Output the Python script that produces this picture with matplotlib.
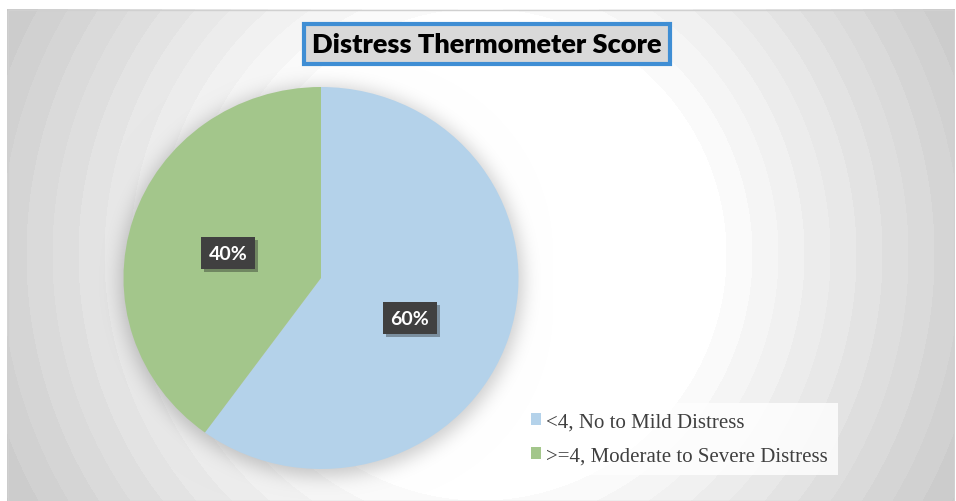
import numpy as np
import matplotlib
matplotlib.use("Agg")
from matplotlib import pyplot as plt
from matplotlib import patheffects as pe
from matplotlib.patches import Rectangle

# data
labels = ["<4, No to Mild Distress", ">=4, Moderate to Severe Distress"]
values = [60, 40]
colors = ["#B4D2EA", "#A3C68B"]
title = "Distress Thermometer Score"

W, H = 956, 502
fig = plt.figure(figsize=(W / 100, H / 100), dpi=100)
fig.patch.set_facecolor("white")

# background: banded radial gradient + soft shadow under the pie
yy, xx = np.mgrid[0:H, 0:W]
d = np.hypot(xx - 480, yy - 255)
band = np.floor(np.maximum(d - 220, 0) / 26)
gray = 255 - band * 4.6
gray = np.clip(gray, 188, 255) / 255.0

cx, cy, rx, ry = 321, 279, 197.5, 191
disc = (np.hypot((xx - cx) / rx, (yy - (cy + 3)) / ry) < 1.02).astype(float)
k = np.exp(-0.5 * (np.arange(-30, 31) / 9.0) ** 2)
k /= k.sum()
sh = np.apply_along_axis(lambda v: np.convolve(v, k, mode="same"), 1, disc)
sh = np.apply_along_axis(lambda v: np.convolve(v, k, mode="same"), 0, sh)
gray = gray * (1 - 0.2 * sh)

img = np.dstack([gray, gray, gray])
bg = fig.add_axes([7 / W, 0, (955 - 7) / W, (H - 10) / H])
bg.imshow(img[10:H, 7:955], aspect="auto", interpolation="nearest")
bg.set_axis_off()
bg.add_patch(Rectangle((0, 0), 947, 491, fill=False, ec="#D0D0D0", lw=1))

# pie (slightly wider than tall, as in the source)
ax = fig.add_axes([(cx - rx) / W, (H - cy - ry) / H, 2 * rx / W, 2 * ry / H])
wedges, texts, autotexts = ax.pie(values, colors=colors, startangle=90, counterclock=False,
                                  radius=1, autopct="%d%%", pctdistance=0.5,
                                  wedgeprops=dict(linewidth=0))
ax.set_aspect("auto")
ax.set_xlim(-1, 1)
ax.set_ylim(-1, 1)
ax.set_axis_off()

# label spots nudged like the excel layout
label_pos = [(0.45, -0.21), (-0.47, 0.13)]
for t, p in zip(autotexts, label_pos):
    t.set_position(p)
    t.set_color("white")
    t.set_fontfamily("Lato")
    t.set_fontweight("bold")
    t.set_fontsize(14)
    t.set_bbox(dict(boxstyle="square,pad=0.4", fc="#404040", ec="none"))
    t.get_bbox_patch().set_path_effects([pe.SimplePatchShadow(offset=(2, -2), alpha=0.35), pe.Normal()])

# title
fig.text(487 / W, 1 - 45 / H, title, ha="center", va="center", fontsize=19.5,
         fontfamily="Lato", fontweight="heavy", color="black",
         bbox=dict(boxstyle="square,pad=0.3", fc="#D9D9D9", ec="#3F8ED4", lw=3))

# legend
leg = fig.legend(wedges, labels, loc="upper left", bbox_to_anchor=(511 / W, 1 - 394 / H),
                 frameon=True, fancybox=False, handlelength=0.5, handleheight=0.5,
                 handletextpad=0.25, labelspacing=0.7, borderpad=0.45,
                 prop=dict(family="Liberation Serif", size=15))
leg.get_frame().set_facecolor((1, 1, 1, 0.12))
leg.get_frame().set_edgecolor("none")
for t in leg.get_texts():
    t.set_color("#404040")

fig.savefig("out.png", dpi=100)
